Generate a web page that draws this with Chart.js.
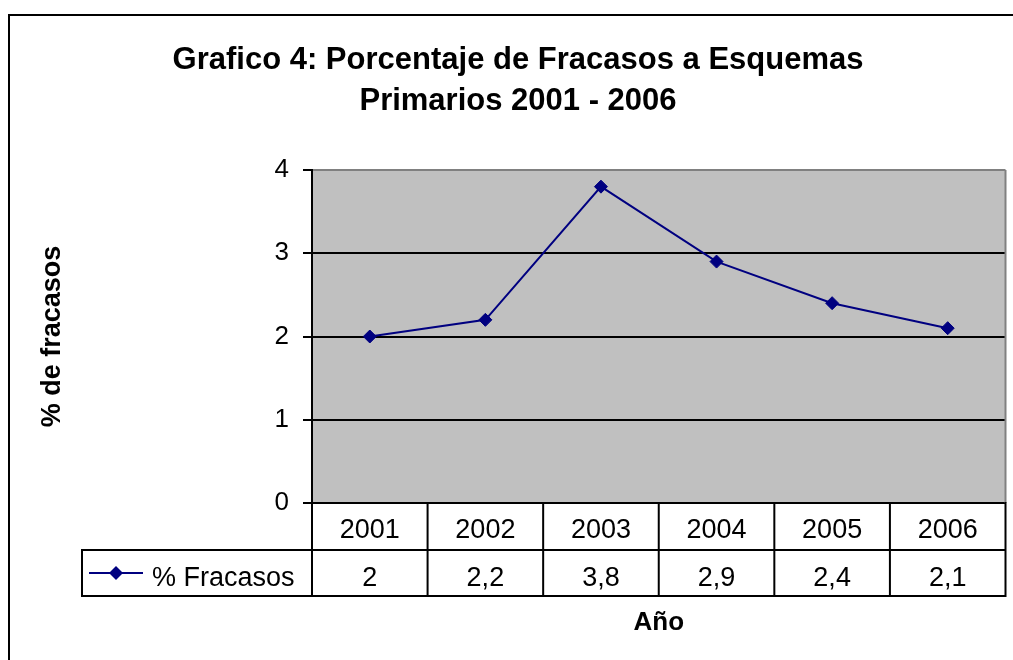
<!DOCTYPE html>
<html><head><meta charset="utf-8">
<script src="https://cdn.jsdelivr.net/npm/chart.js@4"></script>
<style>html,body{margin:0;padding:0;background:#fff;overflow:hidden}canvas{display:block}</style>
</head><body>
<canvas id="c" width="1013" height="660"></canvas>
<script>
// ---- data ----
const titleLines = ['Grafico 4: Porcentaje de Fracasos a Esquemas', 'Primarios 2001 - 2006'];
const categories = ['2001', '2002', '2003', '2004', '2005', '2006'];
const seriesName = '% Fracasos';
const fracasos = [2, 2.2, 3.8, 2.9, 2.4, 2.1];
const yTicks = [0, 1, 2, 3, 4];
const yTitle = '% de fracasos';
const xTitle = 'Año';

const FONT = "'Liberation Sans', Arial, sans-serif";
const LINE_COLOR = '#000080';
const fmt = v => String(v).replace('.', ',');

const excelPlugin = {
  id: 'excel',
  beforeDraw(chart) {
    const ctx = chart.ctx, a = chart.chartArea;
    ctx.save();
    ctx.fillStyle = '#fff';
    ctx.fillRect(0, 0, chart.width, chart.height);
    // outer frame
    ctx.strokeStyle = '#000';
    ctx.lineWidth = 2;
    ctx.beginPath();
    ctx.moveTo(9, chart.height + 5);
    ctx.lineTo(9, 15);
    ctx.lineTo(chart.width + 5, 15);
    ctx.stroke();
    // plot background
    ctx.fillStyle = '#C0C0C0';
    ctx.fillRect(a.left, a.top, a.right - a.left, a.bottom - a.top);
    ctx.restore();
  },
  afterDraw(chart) {
    const ctx = chart.ctx, a = chart.chartArea, xs = chart.scales.x;
    const colW = (a.right - a.left) / categories.length;
    const rowH = 47;
    const r1 = a.bottom, r2 = a.bottom + rowH, r3 = a.bottom + 2 * rowH - 1;
    const legLeft = 82;
    ctx.save();
    // right border of plot area
    ctx.strokeStyle = '#808080';
    ctx.lineWidth = 2;
    ctx.beginPath();
    ctx.moveTo(a.right, a.top);
    ctx.lineTo(a.right, a.bottom);
    ctx.stroke();
    // data table grid
    ctx.strokeStyle = '#000';
    ctx.lineWidth = 2;
    ctx.beginPath();
    for (let i = 0; i <= categories.length; i++) {
      const x = a.left + i * colW;
      ctx.moveTo(x, r1 - 1);
      ctx.lineTo(x, r3 + 1);
    }
    ctx.moveTo(legLeft, r2);
    ctx.lineTo(a.right + 1, r2);
    ctx.moveTo(legLeft, r3);
    ctx.lineTo(a.right + 1, r3);
    ctx.moveTo(legLeft, r2 - 1);
    ctx.lineTo(legLeft, r3 + 1);
    ctx.stroke();
    // table texts
    ctx.fillStyle = '#000';
    ctx.font = '27px ' + FONT;
    ctx.textAlign = 'center';
    ctx.textBaseline = 'alphabetic';
    categories.forEach((c, i) => {
      const x = xs.getPixelForValue(i);
      ctx.fillText(c, x, r1 + 35);
      ctx.fillText(fmt(fracasos[i]), x, r2 + 36);
    });
    // legend key in table
    const ly = (r2 + r3) / 2;
    ctx.strokeStyle = LINE_COLOR;
    ctx.lineWidth = 2;
    ctx.beginPath();
    ctx.moveTo(89, ly);
    ctx.lineTo(143, ly);
    ctx.stroke();
    ctx.fillStyle = LINE_COLOR;
    ctx.beginPath();
    ctx.moveTo(116 - 7, ly);
    ctx.lineTo(116, ly - 7);
    ctx.lineTo(116 + 7, ly);
    ctx.lineTo(116, ly + 7);
    ctx.closePath();
    ctx.fill();
    ctx.fillStyle = '#000';
    ctx.textAlign = 'left';
    ctx.fillText(seriesName, 152, r2 + 36);
    // title
    ctx.font = 'bold 31px ' + FONT;
    ctx.textAlign = 'center';
    ctx.fillText(titleLines[0], 518, 69);
    ctx.fillText(titleLines[1], 518, 110);
    // x title
    ctx.font = 'bold 26px ' + FONT;
    ctx.fillText(xTitle, (a.left + a.right) / 2, 630);
    // y title
    ctx.translate(53, (a.top + a.bottom) / 2);
    ctx.rotate(-Math.PI / 2);
    ctx.font = 'bold 27px ' + FONT;
    ctx.textBaseline = 'middle';
    ctx.fillText(yTitle, 0, 0);
    ctx.restore();
  }
};

new Chart(document.getElementById('c'), {
  type: 'line',
  data: {
    labels: categories,
    datasets: [{
      label: seriesName,
      data: fracasos,
      borderColor: LINE_COLOR,
      backgroundColor: LINE_COLOR,
      borderWidth: 2,
      pointStyle: 'rectRot',
      pointRadius: 6.5,
      pointBorderWidth: 1,
      pointBackgroundColor: LINE_COLOR,
      pointBorderColor: LINE_COLOR,
      tension: 0,
      clip: false
    }]
  },
  options: {
    responsive: false,
    animation: false,
    devicePixelRatio: 1,
    events: [],
    layout: { padding: { left: 0, top: 170, right: 6, bottom: 157 } },
    plugins: { legend: { display: false }, tooltip: { enabled: false }, title: { display: false } },
    scales: {
      x: { type: 'category', display: false, offset: true },
      y: {
        min: 0, max: 4,
        afterFit(s) { s.width = 312; },
        afterBuildTicks(s) { s.ticks = yTicks.map(v => ({ value: v })); },
        ticks: { color: '#000', font: { family: FONT, size: 26 }, padding: 14 },
        grid: {
          color: c => (c.tick && c.tick.value === 4) ? '#808080' : '#000',
          tickColor: '#000',
          lineWidth: 2,
          tickLength: 9,
          drawTicks: true
        },
        border: { display: true, color: '#000', width: 2 }
      }
    }
  },
  plugins: [excelPlugin]
});
</script>
</body></html>
